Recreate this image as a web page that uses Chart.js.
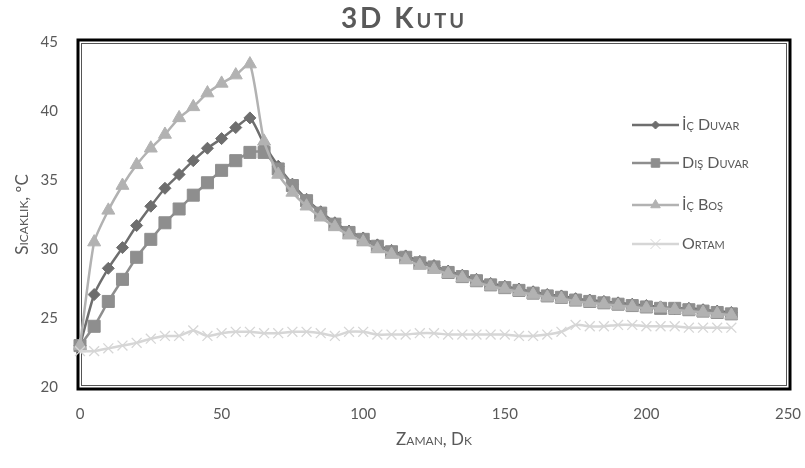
<!DOCTYPE html>
<html>
<head>
<meta charset="utf-8">
<script src="https://cdn.jsdelivr.net/npm/chart.js@4"></script>
<style>
html, body { margin: 0; padding: 0; background: #fff; }
</style>
</head>
<body>
<canvas id="myChart" width="805" height="468"></canvas>
<script>
// zaman (dk)
const times = [0, 5, 10, 15, 20, 25, 30, 35, 40, 45, 50, 55, 60, 65, 70, 75, 80, 85, 90, 95,
    100, 105, 110, 115, 120, 125, 130, 135, 140, 145, 150, 155, 160, 165, 170, 175, 180, 185,
    190, 195, 200, 205, 210, 215, 220, 225, 230];

const icDuvar = [23.0, 26.7, 28.6, 30.1, 31.7, 33.1, 34.4, 35.4, 36.4, 37.3, 38.0, 38.8, 39.5,
    37.6, 36.0, 34.7, 33.6, 32.7, 31.9, 31.3, 30.8, 30.3, 29.9, 29.5, 29.1, 28.8, 28.4, 28.1,
    27.8, 27.5, 27.3, 27.1, 26.9, 26.7, 26.6, 26.4, 26.3, 26.2, 26.1, 26.0, 25.9, 25.8, 25.7,
    25.7, 25.6, 25.5, 25.4];

const disDuvar = [23.0, 24.4, 26.2, 27.8, 29.4, 30.7, 31.9, 32.9, 33.9, 34.8, 35.7, 36.4, 37.0,
    37.0, 35.8, 34.6, 33.5, 32.6, 31.8, 31.2, 30.7, 30.2, 29.8, 29.4, 29.0, 28.7, 28.3, 28.0,
    27.7, 27.4, 27.2, 27.0, 26.8, 26.6, 26.5, 26.3, 26.2, 26.1, 26.0, 25.9, 25.8, 25.7, 25.7,
    25.6, 25.5, 25.4, 25.3];

const icBos = [23.0, 30.5, 32.8, 34.6, 36.1, 37.3, 38.3, 39.5, 40.3, 41.3, 42.0, 42.6, 43.4,
    37.8, 35.4, 34.1, 33.1, 32.3, 31.6, 31.0, 30.5, 30.0, 29.6, 29.2, 28.8, 28.5, 28.2, 27.9,
    27.6, 27.3, 27.1, 26.9, 26.7, 26.5, 26.4, 26.2, 26.1, 26.0, 25.9, 25.8, 25.7, 25.7, 25.6,
    25.5, 25.4, 25.3, 25.2];

const ortam = [22.6, 22.6, 22.8, 23.0, 23.2, 23.5, 23.7, 23.7, 24.1, 23.7, 23.9, 24.0, 24.0,
    23.9, 23.9, 24.0, 24.0, 23.9, 23.7, 24.0, 24.0, 23.8, 23.8, 23.8, 23.9, 23.9, 23.8, 23.8,
    23.8, 23.8, 23.8, 23.7, 23.7, 23.8, 24.0, 24.5, 24.4, 24.4, 24.5, 24.5, 24.4, 24.4, 24.4,
    24.3, 24.3, 24.3, 24.3];

const seriesNames = ['İç Duvar', 'Dış Duvar', 'İç Boş', 'Ortam'];
const seriesColors = ['#6e6e6e', '#8e8e8e', '#b2b2b2', '#d6d6d6'];
const seriesMarkers = ['rectRot', 'rect', 'triangle', 'crossRot'];
const markerSizes = [6, 8.5, 7.5, 7];
const legendSizes = [4, 6, 5.5, 7];

const chartTitle = '3D Kutu';
const xTitle = 'Zaman, Dk';
const yTitle = 'Sıcaklık, ºC';

const textGray = '#595959';
const fontFam = 'Lato, "Open Sans", sans-serif';

function toPoints(vals) {
    return times.map((t, i) => ({ x: t, y: vals[i] }));
}

const allValues = [icDuvar, disDuvar, icBos, ortam];

const datasets = allValues.map((vals, i) => ({
    label: seriesNames[i],
    data: toPoints(vals),
    borderColor: seriesColors[i],
    backgroundColor: seriesColors[i],
    pointBackgroundColor: seriesColors[i],
    pointBorderColor: seriesColors[i],
    pointStyle: seriesMarkers[i],
    pointRadius: markerSizes[i],
    pointBorderWidth: seriesMarkers[i] === 'crossRot' ? 1.3 : 1,
    borderWidth: 2.5,
    tension: 0.2,
    clip: false,
    order: 4 - i,
    legendRadius: legendSizes[i]
}));

// thick frame round the plot area, like the excel chart
const plotFrame = {
    id: 'plotFrame',
    beforeDatasetsDraw(chart) {
        const ctx = chart.ctx;
        const a = chart.chartArea;
        ctx.save();
        ctx.strokeStyle = '#000';
        ctx.lineWidth = 3;
        ctx.strokeRect(a.left - 2, a.top - 2, a.right - a.left + 4, a.bottom - a.top + 4);
        ctx.lineWidth = 1;
        ctx.strokeStyle = '#555';
        ctx.strokeRect(a.left + 1.5, a.top + 1.5, a.right - a.left - 3, a.bottom - a.top - 3);
        ctx.restore();
    }
};

// spaced small-caps title (chart.js title has no letter spacing)
const spacedTitle = {
    id: 'spacedTitle',
    afterDraw(chart) {
        const ctx = chart.ctx;
        ctx.save();
        ctx.font = 'small-caps bold 28px ' + fontFam;
        ctx.letterSpacing = '3px';
        ctx.fillStyle = textGray;
        ctx.textAlign = 'center';
        ctx.textBaseline = 'middle';
        ctx.fillText(chartTitle, 404, 19);
        ctx.restore();
    }
};

// legend sits inside the plot on the right
const insideLegend = {
    id: 'insideLegend',
    afterDraw(chart) {
        const ctx = chart.ctx;
        const x0 = 632;
        const ys = [125, 163, 205, 244];
        chart.data.datasets.forEach((ds, i) => {
            const y = ys[i];
            ctx.save();
            ctx.strokeStyle = ds.borderColor;
            ctx.lineWidth = 2.5;
            ctx.beginPath();
            ctx.moveTo(x0, y);
            ctx.lineTo(x0 + 47, y);
            ctx.stroke();
            ctx.fillStyle = ds.pointBackgroundColor;
            ctx.strokeStyle = ds.pointBorderColor;
            ctx.lineWidth = 1;
            Chart.helpers.drawPoint(ctx, { pointStyle: ds.pointStyle, radius: ds.legendRadius, rotation: 0, borderWidth: 1 }, x0 + 23.5, y);
            ctx.font = 'small-caps 16px ' + fontFam;
            ctx.fillStyle = textGray;
            ctx.textBaseline = 'middle';
            ctx.fillText(ds.label, x0 + 50, y);
            ctx.restore();
        });
    }
};

const ctx = document.getElementById('myChart');

const config = {
    type: 'line',
    data: { datasets: datasets },
    options: {
        responsive: false,
        animation: false,
        layout: { padding: { left: 0, right: 0, top: 42, bottom: 0 } },
        plugins: {
            legend: { display: false },
            tooltip: { enabled: false },
            title: { display: false }
        },
        scales: {
            x: {
                type: 'linear',
                min: 0,
                max: 250,
                grid: { display: false, drawTicks: false },
                border: { display: false },
                ticks: { stepSize: 50, color: textGray, font: { family: fontFam, size: 15 }, padding: 18 },
                title: {
                    display: true, text: xTitle, color: textGray,
                    font: { family: fontFam, size: 17, weight: 'small-caps' },
                    padding: { top: 0, bottom: 18 }
                },
                afterFit(scale) {
                    scale.height = 81;
                    scale.paddingRight = 17;
                    scale.paddingLeft = 0;
                }
            },
            y: {
                min: 20,
                max: 45,
                grid: { display: false, drawTicks: false },
                border: { display: false },
                ticks: { stepSize: 5, color: textGray, font: { family: fontFam, size: 15 }, padding: 22 },
                title: {
                    display: true, text: yTitle, color: textGray,
                    font: { family: fontFam, size: 17, weight: 'small-caps' },
                    padding: { top: 12, bottom: 0 }
                },
                afterFit(scale) {
                    scale.width = 80;
                    scale.paddingTop = 0;
                    scale.paddingBottom = 0;
                }
            }
        }
    },
    plugins: [plotFrame, spacedTitle, insideLegend]
};

new Chart(ctx, config);
</script>
</body>
</html>
